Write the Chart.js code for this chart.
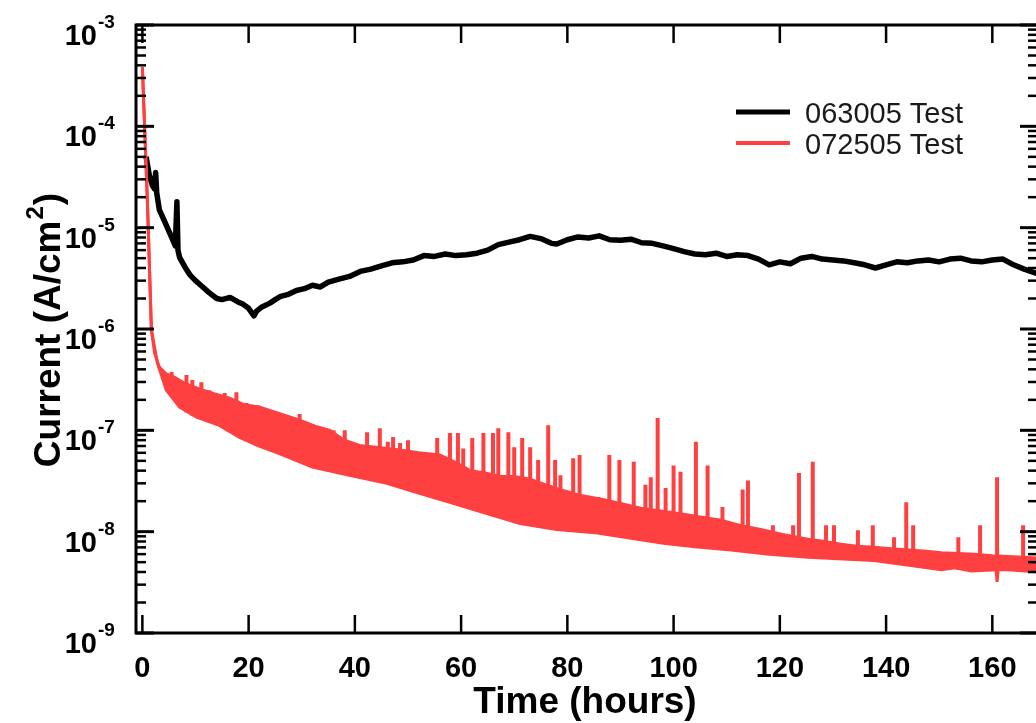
<!DOCTYPE html>
<html>
<head>
<meta charset="utf-8">
<script src="https://cdn.jsdelivr.net/npm/chart.js@4.4.1/dist/chart.umd.min.js"></script>
<style>
  html, body { margin: 0; padding: 0; background: #fff; overflow: hidden; }
  #wrap { width: 1040px; height: 723px; }
</style>
</head>
<body>
<div id="wrap"><canvas id="chart" width="1040" height="723"></canvas></div>
<script>
// LABELS / TICKS
const seriesLabels = ["063005 Test", "072505 Test"];
const xTicks = [0, 20, 40, 60, 80, 100, 120, 140, 160];
const yExponents = [-9, -8, -7, -6, -5, -4, -3];

// 063005 TEST (black)
const blackHours = [0.7, 1.3, 1.9, 2.3, 2.5, 2.7, 3.2, 4.2, 5.1, 6.2, 6.5, 6.7, 7.0, 8, 9, 10, 11, 12.5, 14, 15,
  16.5, 18, 19, 20, 21, 21.5, 22.5, 24, 25, 26, 27.5, 29, 30.5, 32, 33.5, 35, 37, 39, 41, 43,
  45, 47, 49, 51, 53, 55, 57, 59, 61, 63, 65, 67, 69, 71, 73, 75, 77, 78, 80, 82,
  84, 86, 88, 90, 92, 94, 96, 98, 100, 102, 104, 106, 108, 110, 112, 114, 116, 118, 120, 122,
  124, 126, 128, 130, 132, 134, 136, 138, 140, 142, 144, 146, 148, 150, 152, 154, 156, 158, 160, 162,
  164, 166, 168.6];
const blackCurrent = [5.0e-5, 3.3e-5, 2.6e-5, 2.4e-5, 3.5e-5, 2.2e-5, 1.5e-5, 1.15e-5, 9.0e-6, 6.6e-6, 1.8e-5, 6.0e-6, 5.1e-6, 4.1e-6, 3.4e-6, 3.0e-6, 2.7e-6, 2.3e-6, 2.0e-6, 1.95e-6,
  2.05e-6, 1.85e-6, 1.75e-6, 1.6e-6, 1.35e-6, 1.5e-6, 1.65e-6, 1.8e-6, 1.95e-6, 2.1e-6, 2.2e-6, 2.4e-6, 2.5e-6, 2.7e-6, 2.6e-6, 2.9e-6, 3.1e-6, 3.3e-6, 3.7e-6, 3.9e-6,
  4.2e-6, 4.5e-6, 4.6e-6, 4.8e-6, 5.3e-6, 5.2e-6, 5.5e-6, 5.3e-6, 5.4e-6, 5.6e-6, 6.0e-6, 6.8e-6, 7.2e-6, 7.6e-6, 8.2e-6, 7.8e-6, 7.0e-6, 6.9e-6, 7.6e-6, 8.1e-6,
  7.9e-6, 8.3e-6, 7.6e-6, 7.5e-6, 7.7e-6, 7.1e-6, 7.0e-6, 6.6e-6, 6.2e-6, 5.8e-6, 5.5e-6, 5.4e-6, 5.6e-6, 5.2e-6, 5.4e-6, 5.3e-6, 4.9e-6, 4.3e-6, 4.6e-6, 4.4e-6,
  5.0e-6, 5.2e-6, 4.9e-6, 4.8e-6, 4.7e-6, 4.5e-6, 4.3e-6, 4.0e-6, 4.3e-6, 4.6e-6, 4.5e-6, 4.7e-6, 4.8e-6, 4.6e-6, 4.9e-6, 5.0e-6, 4.7e-6, 4.6e-6, 4.8e-6, 4.9e-6,
  4.3e-6, 3.9e-6, 3.5e-6];

// 072505 TEST (red): lower edge of the noisy band
const redLowHours = [0, 0.94, 1.7, 2.83, 4.5, 7.0, 10.2, 14.5, 18.3, 22, 25.8, 32, 39, 46, 52, 58.5, 65, 71.1, 78, 85.7,
  92, 98.1, 104, 110.8, 118, 125.3, 131, 137.7, 144, 150.4, 153, 156, 160.7, 160.9, 161.1, 163, 168.6];
const redLowCurrent = [3.85e-4, 1.86e-5, 9.8e-7, 4.6e-7, 2.5e-7, 1.7e-7, 1.35e-7, 1.12e-7, 8.5e-8, 7.0e-8, 5.9e-8, 4.35e-8, 3.6e-8, 3.0e-8, 2.4e-8, 1.9e-8, 1.5e-8, 1.2e-8, 1.05e-8, 9.7e-9,
  8.6e-9, 7.7e-9, 7.1e-9, 6.6e-9, 6.0e-9, 5.6e-9, 5.4e-9, 5.2e-9, 4.7e-9, 4.2e-9, 4.4e-9, 4.1e-9, 4.2e-9, 3.2e-9, 4.2e-9, 4.2e-9, 4.0e-9];

// upper edge of the band (without the tall spikes)
const redTopHours = [0, 0.94, 1.7, 2.3, 3.2, 4.5, 6.0, 8.0, 10.8, 13.5, 16.4, 19.0, 22.1, 26.0, 29.6, 32.5, 35.3, 38.0, 40.9, 44.0,
  48.5, 52.0, 56.0, 59.0, 61.7, 64.5, 67.4, 70.0, 73.0, 76.0, 78.7, 82.0, 86.2, 90.0, 93.8, 97.5, 101.3, 105.0, 108.9, 112.5,
  116.4, 120.5, 125.3, 128.5, 131.5, 134.5, 137.7, 141.0, 144.2, 147.5, 150.4, 153.5, 156.6, 160.0, 163.0, 166.0, 168.6];
const redTopCurrent = [3.85e-4, 1.86e-5, 9.8e-7, 5.8e-7, 4.2e-7, 3.6e-7, 3.35e-7, 2.9e-7, 2.55e-7, 2.3e-7, 2.08e-7, 1.8e-7, 1.69e-7, 1.45e-7, 1.26e-7, 1.1e-7, 1.0e-7, 8.0e-8, 7.1e-8, 6.8e-8,
  6.4e-8, 6.0e-8, 5.7e-8, 4.8e-8, 4.0e-8, 3.8e-8, 3.5e-8, 3.5e-8, 3.3e-8, 2.9e-8, 2.6e-8, 2.3e-8, 2.1e-8, 1.9e-8, 1.7e-8, 1.6e-8, 1.5e-8, 1.4e-8, 1.3e-8, 1.15e-8,
  1.05e-8, 9.4e-9, 8.4e-9, 8.0e-9, 7.5e-9, 7.2e-9, 7.0e-9, 6.8e-9, 6.6e-9, 6.4e-9, 6.2e-9, 6.1e-9, 6.0e-9, 5.8e-9, 5.7e-9, 5.6e-9, 5.5e-9];

// spikes in the red trace
const spikeHours = [5.5, 8.3, 9.4, 11.1, 12.6, 15.5, 17.7, 19.6, 21.7, 24.5, 27.7, 29.6, 31.9, 34.5, 36.0, 38.1, 40.3, 42.3, 44.7, 46.2,
  47.2, 48.5, 50.0, 52.3, 55.5, 57.9, 59.4, 60.4, 62.1, 64.2, 66.0, 67.0, 68.9, 70.0, 71.5, 73.0, 74.5, 76.4, 77.7, 78.7,
  81.1, 82.3, 85.8, 87.9, 89.8, 92.5, 94.7, 95.7, 97.0, 98.5, 100.0, 101.3, 104.2, 106.4, 109.2, 113.0, 114.0, 118.7, 122.5, 123.6,
  126.2, 128.7, 130.2, 134.7, 137.5, 141.5, 143.8, 145.1, 153.6, 157.7, 160.9, 165.8];
const spikeTop = [3.76e-7, 3.51e-7, 3.13e-7, 2.99e-7, 2.49e-7, 2.33e-7, 2.38e-7, 1.86e-7, 1.77e-7, 1.48e-7, 1.32e-7, 1.45e-7, 1.12e-7, 1.05e-7, 1.0e-7, 1.0e-7, 6.8e-8, 9.6e-8, 1.05e-7, 7.7e-8,
  8.6e-8, 7.5e-8, 8.0e-8, 6.0e-8, 8.4e-8, 9.4e-8, 9.4e-8, 6.6e-8, 8.4e-8, 9.4e-8, 9.4e-8, 1.05e-7, 9.6e-8, 6.8e-8, 8.4e-8, 6.8e-8, 5.1e-8, 1.12e-7, 5.1e-8, 3.6e-8,
  5.3e-8, 5.7e-8, 2.2e-8, 5.7e-8, 5.1e-8, 4.9e-8, 2.9e-8, 3.45e-8, 1.32e-7, 2.7e-8, 4.5e-8, 3.9e-8, 7.7e-8, 4.5e-8, 1.75e-8, 2.6e-8, 3.2e-8, 1.16e-8, 1.16e-8, 3.8e-8,
  4.9e-8, 1.16e-8, 1.16e-8, 1.03e-8, 1.16e-8, 8.8e-9, 1.95e-8, 1.16e-8, 8.8e-9, 1.16e-8, 3.45e-8, 1.16e-8];
const spikeBase = [2.2e-7, 1.5e-7, 1.4e-7, 1.3e-7, 1.2e-7, 1.05e-7, 9e-8, 8e-8, 7.2e-8, 6.2e-8, 5.5e-8, 5e-8, 4.4e-8, 4.1e-8, 3.9e-8, 3.7e-8, 3.5e-8, 3.3e-8, 3.1e-8, 3.0e-8,
  2.9e-8, 2.8e-8, 2.6e-8, 2.4e-8, 2.1e-8, 1.95e-8, 1.85e-8, 1.8e-8, 1.7e-8, 1.55e-8, 1.45e-8, 1.4e-8, 1.3e-8, 1.25e-8, 1.2e-8, 1.15e-8, 1.1e-8, 1.08e-8, 1.05e-8, 1.03e-8,
  1.0e-8, 1.0e-8, 9.7e-9, 9.4e-9, 9.0e-9, 8.6e-9, 8.2e-9, 8.0e-9, 7.9e-9, 7.7e-9, 7.5e-9, 7.4e-9, 7.1e-9, 6.9e-9, 6.7e-9, 6.4e-9, 6.3e-9, 6.0e-9, 5.8e-9, 5.7e-9,
  5.6e-9, 5.5e-9, 5.4e-9, 5.3e-9, 5.2e-9, 4.9e-9, 4.7e-9, 4.6e-9, 4.2e-9, 4.2e-9, 4.2e-9, 4.1e-9];

const BLACK = "#000000";
const RED = "#ff4040";
const FONT = "'Liberation Sans', Arial, sans-serif";

function pts(xs, ys) {
  return xs.map((x, i) => ({ x: x, y: ys[i] }));
}

const spikePts = [];
spikeHours.forEach((h, i) => {
  spikePts.push({ x: h, y: spikeBase[i] }, { x: h, y: spikeTop[i] }, { x: h, y: null });
});

// AXES, TICKS, LABELS, LEGEND
const frame = {
  id: "frame",
  afterDraw(chart) {
    const { ctx, chartArea: a, scales: { x, y } } = chart;
    ctx.save();
    ctx.strokeStyle = BLACK;
    ctx.fillStyle = BLACK;
    ctx.lineWidth = 3;
    ctx.strokeRect(a.left, a.top, a.right - a.left, a.bottom - a.top);

    const seg = (x1, y1, x2, y2) => {
      ctx.beginPath(); ctx.moveTo(x1, y1); ctx.lineTo(x2, y2); ctx.stroke();
    };

    // x ticks
    ctx.lineWidth = 2.5;
    ctx.font = "bold 29px " + FONT;
    ctx.textAlign = "center";
    ctx.textBaseline = "alphabetic";
    xTicks.forEach(v => {
      const px = x.getPixelForValue(v);
      seg(px, a.bottom, px, a.bottom - 18);
      seg(px, a.top, px, a.top + 18);
      ctx.fillText(String(v), px, 677);
    });

    // y minor ticks
    ctx.lineWidth = 2.5;
    yExponents.slice(0, -1).forEach(e => {
      for (let m = 2; m <= 9; m++) {
        const py = y.getPixelForValue(m * Math.pow(10, e));
        seg(a.left, py, a.left + 10, py);
        seg(a.right, py, a.right - 10, py);
      }
    });

    // y major ticks + labels
    ctx.lineWidth = 3;
    yExponents.forEach(e => {
      const py = y.getPixelForValue(Math.pow(10, e));
      seg(a.left, py, a.left + 18, py);
      seg(a.right, py, a.right - 18, py);
      ctx.textAlign = "right";
      ctx.font = "bold 29px " + FONT;
      ctx.fillText("10", 97, py + 20);
      ctx.textAlign = "left";
      ctx.font = "bold 19px " + FONT;
      ctx.fillText(String(e), 98, py + 3);
    });

    // axis titles
    ctx.font = "bold 37px " + FONT;
    ctx.textAlign = "center";
    ctx.fillText("Time (hours)", 585, 713);

    ctx.save();
    ctx.translate(60, 330);
    ctx.rotate(-Math.PI / 2);
    const t1 = "Current (A/cm", t2 = ")";
    ctx.font = "bold 37px " + FONT;
    const w1 = ctx.measureText(t1).width, w3 = ctx.measureText(t2).width;
    ctx.font = "bold 24px " + FONT;
    const w2 = ctx.measureText("2").width + 2;
    let sx = -(w1 + w2 + w3) / 2;
    ctx.textAlign = "left";
    ctx.font = "bold 37px " + FONT;
    ctx.fillText(t1, sx, 0);
    ctx.font = "bold 24px " + FONT;
    ctx.fillText("2", sx + w1 + 1, -17);
    ctx.font = "bold 37px " + FONT;
    ctx.fillText(t2, sx + w1 + w2, 0);
    ctx.restore();

    // legend
    const colors = [BLACK, RED];
    ctx.font = "29px " + FONT;
    ctx.textAlign = "left";
    seriesLabels.forEach((lab, i) => {
      const ly = 112 + i * 31;
      ctx.strokeStyle = colors[i];
      ctx.lineWidth = i === 0 ? 5 : 4;
      seg(736, ly, 790, ly);
      ctx.fillStyle = "#1a1a1a";
      ctx.fillText(lab, 805, ly + 11);
    });
    ctx.restore();
  }
};

new Chart(document.getElementById("chart"), {
  type: "line",
  data: {
    datasets: [
      { label: "low", data: pts(redLowHours, redLowCurrent), borderColor: RED, borderWidth: 3, fill: false },
      { label: seriesLabels[1], data: pts(redTopHours, redTopCurrent), borderColor: RED, borderWidth: 3,
        backgroundColor: RED, fill: "-1" },
      { label: "spikes", data: spikePts, borderColor: RED, borderWidth: 4, spanGaps: false, fill: false },
      { label: seriesLabels[0], data: pts(blackHours, blackCurrent), borderColor: BLACK, borderWidth: 5.5,
        borderJoinStyle: "round", fill: false }
    ]
  },
  options: {
    responsive: false,
    animation: false,
    devicePixelRatio: 1,
    elements: { point: { radius: 0 }, line: { tension: 0 } },
    layout: { padding: { left: 136, top: 25, right: 2, bottom: 90 } },
    scales: {
      x: { type: "linear", min: -1.2, max: 168.6, display: false },
      y: { type: "logarithmic", min: 1e-9, max: 1e-3, display: false }
    },
    plugins: { legend: { display: false }, tooltip: { enabled: false } }
  },
  plugins: [frame]
});
</script>
</body>
</html>
